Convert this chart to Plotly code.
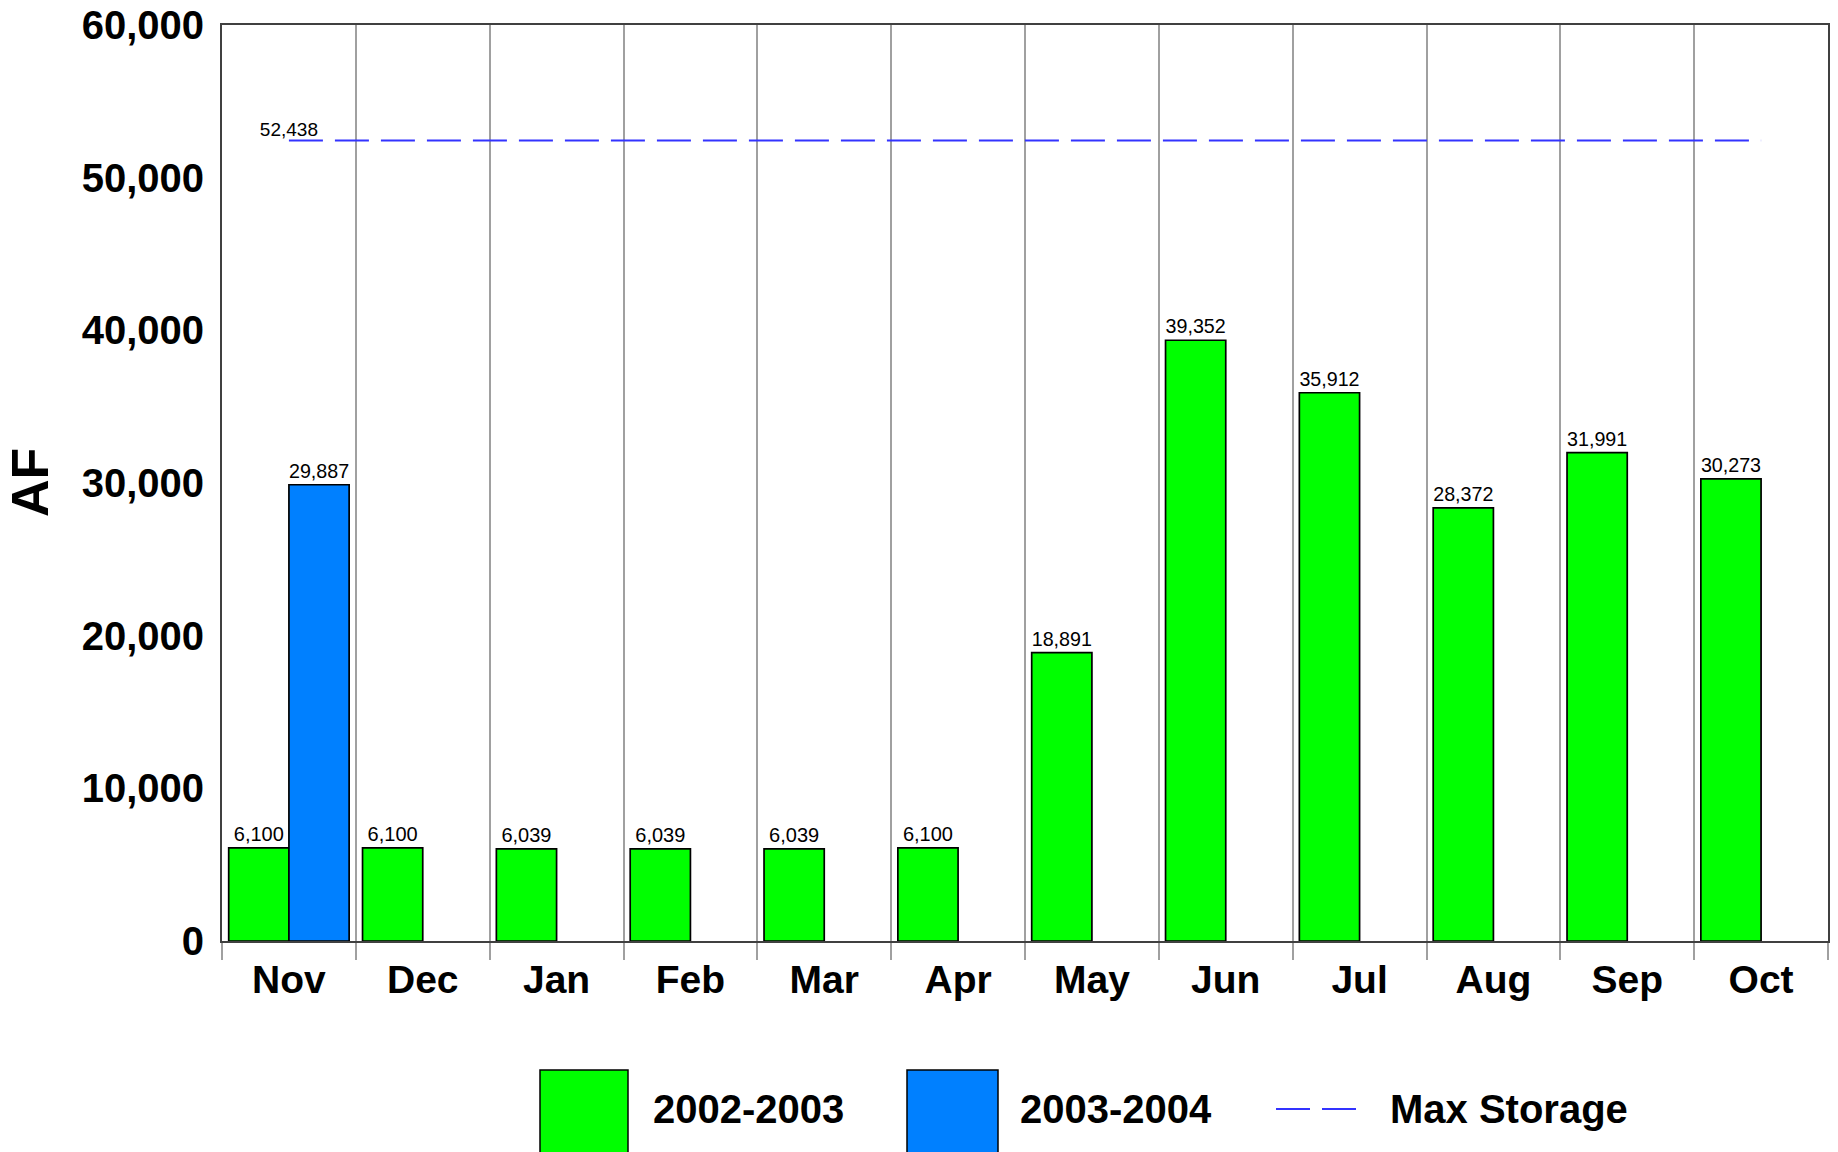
import plotly.graph_objects as go

# ---- data ----
months = ["Nov", "Dec", "Jan", "Feb", "Mar", "Apr", "May", "Jun", "Jul", "Aug", "Sep", "Oct"]
wy_2002_2003 = [6100, 6100, 6039, 6039, 6039, 6100, 18891, 39352, 35912, 28372, 31991, 30273]
wy_2003_2004 = [29887, None, None, None, None, None, None, None, None, None, None, None]
max_storage = 52438
y_ticks = [0, 10000, 20000, 30000, 40000, 50000, 60000]
series_names = ["2002-2003", "2003-2004", "Max Storage"]
y_title = "AF"

FONT = "Liberation Sans, Arial, sans-serif"
GREEN = "#00ff00"
BLUE = "#0080ff"
LINE_BLUE = "#3333ff"

# figure fills the 1838x1152 window (body margin removed by post_script)
W, H = 1838, 1152
PLOT_L, PLOT_R, PLOT_T, PLOT_B = 222, 1828, 25, 941   # pixel coords of plot area
L, T = PLOT_L, PLOT_T
R = W - PLOT_R
B = H - PLOT_B
PW, PH = PLOT_R - PLOT_L, PLOT_B - PLOT_T


def px_x(px):
    return (px - PLOT_L) / PW


def px_y(py):
    return (PLOT_B - py) / PH


fig = go.Figure()

fig.add_trace(go.Bar(
    x=months, y=wy_2002_2003, name=series_names[0],
    marker=dict(color=GREEN, line=dict(color="#000000", width=1.7)),
    texttemplate="%{y:,}", textposition="outside",
    textfont=dict(family=FONT, size=20, color="#000000"),
    cliponaxis=False, showlegend=False,
))
fig.add_trace(go.Bar(
    x=months, y=wy_2003_2004, name=series_names[1],
    marker=dict(color=BLUE, line=dict(color="#000000", width=1.7)),
    texttemplate="%{y:,}", textposition="outside",
    textfont=dict(family=FONT, size=20, color="#000000"),
    cliponaxis=False, showlegend=False,
))
ms_text = [f"{max_storage:,}"] + [""] * (len(months) - 1)
fig.add_trace(go.Scatter(
    x=months, y=[max_storage] * len(months), name=series_names[2],
    mode="lines+text", text=ms_text, textposition="top center",
    textfont=dict(family=FONT, size=19, color="#000000"),
    line=dict(color=LINE_BLUE, width=2, dash="34px,12px"),
    cliponaxis=False, showlegend=False,
))

# ---- custom legend (large swatches as in reference) ----
shapes = []
annotations = []
leg_y = 1109
box_top = 1070
box_bottom = 1175
for (x0, x1, col) in [(540, 628, GREEN), (907, 998, BLUE)]:
    shapes.append(dict(type="rect", xref="paper", yref="paper",
                       x0=px_x(x0), x1=px_x(x1), y0=px_y(box_bottom), y1=px_y(box_top),
                       fillcolor=col, line=dict(color="#000000", width=1.5), layer="above"))
shapes.append(dict(type="line", xref="paper", yref="paper",
                   x0=px_x(1276), x1=px_x(1356), y0=px_y(leg_y), y1=px_y(leg_y),
                   line=dict(color=LINE_BLUE, width=2, dash="34px,12px")))
for (xl, name) in [(651, series_names[0]), (1018, series_names[1]), (1388, series_names[2])]:
    annotations.append(dict(xref="paper", yref="paper", x=px_x(xl), y=px_y(leg_y),
                            xanchor="left", yanchor="middle", text=f"<b>{name}</b>",
                            showarrow=False, font=dict(family=FONT, size=40, color="#000000")))

# y-axis title placed as a rotated annotation
annotations.append(dict(xref="paper", yref="paper", x=px_x(30), y=0.5,
                        xanchor="center", yanchor="middle", textangle=-90,
                        text=f"<b>{y_title}</b>", showarrow=False,
                        font=dict(family=FONT, size=52, color="#000000")))

fig.update_layout(
    width=W, height=H,
    margin=dict(l=L, r=R, t=T, b=B, pad=0, autoexpand=False),
    paper_bgcolor="#ffffff", plot_bgcolor="#ffffff",
    barmode="group", bargap=0.1, bargroupgap=0,
    showlegend=False,
    font=dict(family=FONT, color="#000000"),
    shapes=shapes, annotations=annotations,
    xaxis=dict(
        type="category", categoryorder="array", categoryarray=months,
        range=[-0.5, len(months) - 0.5],
        tickson="boundaries", ticks="outside", ticklen=17, tickwidth=2, tickcolor="#a0a0a0",
        showgrid=True, gridcolor="#a0a0a0", gridwidth=2,
        showline=True, linecolor="#404040", linewidth=2, mirror=True,
        ticklabelstandoff=3,
        tickfont=dict(family=FONT, size=39, color="#000000", weight="bold"),
        fixedrange=True,
    ),
    yaxis=dict(
        range=[0, 60000], tickvals=y_ticks, tickformat=",",
        showgrid=False, zeroline=False, ticks="",
        ticklabelstandoff=8, ticklabeloverflow="allow",
        showline=True, linecolor="#404040", linewidth=2, mirror=True,
        tickfont=dict(family=FONT, size=40, color="#000000", weight="bold"),
        fixedrange=True,
    ),
)

fig.write_html(
    "out.html",
    config={"displayModeBar": False},
    post_script="document.body.style.margin='0';document.body.style.overflow='hidden';",
)
